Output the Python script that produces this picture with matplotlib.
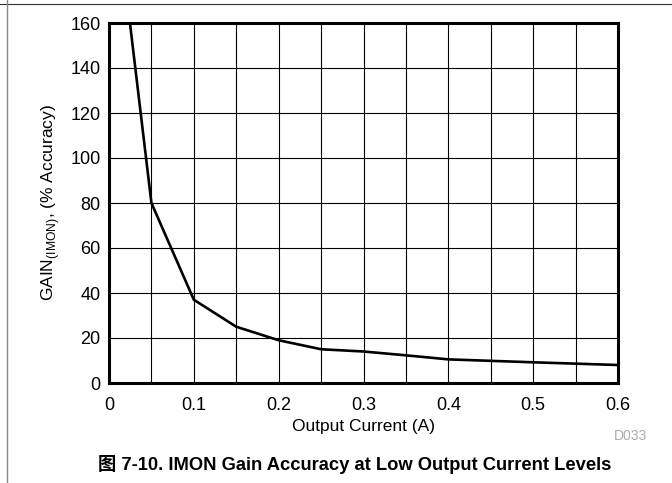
import matplotlib
matplotlib.use('Agg')
import matplotlib.pyplot as plt
from matplotlib.lines import Line2D

plt.rcParams['font.family'] = ['Liberation Sans', 'Noto Sans CJK SC', 'DejaVu Sans']
plt.rcParams['mathtext.fontset'] = 'custom'
plt.rcParams['mathtext.rm'] = 'Liberation Sans'

# output current (A) vs gain accuracy (%)
current = [0.025, 0.05, 0.1, 0.15, 0.2, 0.25, 0.3, 0.35, 0.4, 0.5, 0.6]
accuracy = [159, 80, 37, 25, 19, 15, 14, 12.3, 10.5, 9.2, 8]

x_ticks = [0, 0.1, 0.2, 0.3, 0.4, 0.5, 0.6]
x_tick_labels = ['0', '0.1', '0.2', '0.3', '0.4', '0.5', '0.6']
y_ticks = [0, 20, 40, 60, 80, 100, 120, 140, 160]

fig = plt.figure(figsize=(6.72, 4.83), dpi=100)
ax = fig.add_axes([109 / 672, 1 - 383 / 483, 509 / 672, 360 / 483])

ax.plot(current, accuracy, color='black', linewidth=1.9, solid_joinstyle='miter')

ax.set_xlim(0, 0.6)
ax.set_ylim(0, 160)
ax.set_xticks(x_ticks)
ax.set_xticklabels(x_tick_labels)
ax.set_xticks([i * 0.05 for i in range(13)], minor=True)
ax.set_yticks(y_ticks)
ax.grid(True, which='both', axis='x', color='black', linewidth=0.8)
ax.grid(True, which='major', axis='y', color='black', linewidth=0.8)
ax.tick_params(axis='both', which='both', length=0, labelsize=13)
ax.tick_params(axis='x', pad=10)
ax.tick_params(axis='y', pad=6)
for s in ax.spines.values():
    s.set_linewidth(2.2)
    s.set_zorder(5)

ax.set_xlabel('Output Current (A)', fontsize=12.5, labelpad=4)
ax.set_ylabel('GAIN$_{\\mathrm{(IMON)}}$, (% Accuracy)', fontsize=12.5, labelpad=6)

fig.text(647 / 672, 1 - 436.5 / 483, 'D033', fontsize=10, color='#aaaaaa',
         ha='right', va='center')
fig.text(354.5 / 672, 1 - 464 / 483, '图 7-10. IMON Gain Accuracy at Low Output Current Levels',
         fontsize=13.2, fontweight='bold', ha='center', va='center')

# page frame lines
fig.add_artist(Line2D([0, 1], [1 - 4 / 483, 1 - 4 / 483], color='#333333', linewidth=0.8))
fig.add_artist(Line2D([7 / 672, 7 / 672], [0, 1], color='#888888', linewidth=1.0))

fig.savefig('out.png', dpi=100)
